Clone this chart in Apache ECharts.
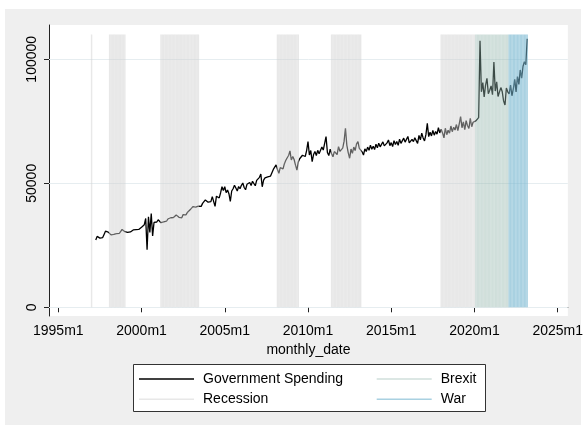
<!DOCTYPE html>
<html>
<head>
<meta charset="utf-8">
<script src="https://cdn.jsdelivr.net/npm/echarts@6/dist/echarts.min.js"></script>
<style>
  html, body { margin: 0; padding: 0; background: #fff; }
  #chart { width: 586px; height: 425px; }
</style>
</head>
<body>
<div id="chart"></div>
<script>
// Monthly government spending, first observation 1997m4
const firstMonth = '1997m4';
const spending = [
  // 1997 (Apr-Dec)
  27100, 28600, 28300, 27900, 28700, 28100, 29400, 30700, 30500,
  // 1998
  30300, 29600, 29200, 29000, 29400, 29300, 29700, 30100, 29800, 30600, 31400, 30700,
  // 1999
  30500, 30900, 30200, 29900, 30400, 30800, 31200, 30900, 31300, 31600, 31400, 32100,
  // 2000
  32300, 31900, 33300, 35800, 23200, 36500, 30200, 37800, 28800, 34200, 35000, 34400,
  // 2001
  35300, 34600, 34100, 33500, 34400, 35100, 34700, 35600, 35200, 36100, 35600, 36200,
  // 2002
  36400, 37200, 36800, 36300, 37100, 36100, 37400, 37900, 37300, 38200, 38800, 39300,
  // 2003
  39800, 40600, 39900, 40400, 40000, 40800, 41300, 40700, 41900, 41200, 43300, 42500,
  // 2004
  42400, 43100, 42600, 44600, 45300, 40700, 44800, 45600, 44100, 46200, 48600, 47100,
  // 2005
  48600, 46200, 47300, 45800, 42700, 46900, 47800, 49200, 48100, 46900, 48700, 47800,
  // 2006
  49200, 50100, 48300, 47400, 49600, 48800, 50300, 49100, 50800, 50200, 49000, 51200,
  // 2007
  51700, 52400, 53700, 48600, 51300, 52200, 51800, 52600, 53100, 52900, 54300, 55600,
  // 2008
  55200, 57400, 55600, 54000, 56300, 57100, 55800, 57900, 59300, 58600, 61200, 63100,
  // 2009
  59400, 60800, 59600, 57300, 55300, 58600, 59900, 60400, 61300, 62100, 60800, 63200,
  // 2010
  66800, 61400, 63200, 58700, 61600, 62800, 61200, 63300, 61900, 62700, 64600, 63400,
  // 2011
  62900, 68800, 62400, 61200, 63800, 61900, 60700, 62800, 63500, 61600, 64800, 62900,
  // 2012
  62800, 64200, 66900, 72200, 65300, 62400, 60100, 63800, 62100, 64600, 63200, 65900,
  // 2013
  66800, 64100, 63400, 62700, 61400, 63900, 62800, 64600, 63300, 65400, 63700, 64900,
  // 2014
  63600, 65800, 64300, 66200, 64700, 63900, 66700, 65100, 64400, 66300, 67500, 65200,
  // 2015
  66400, 64800, 67200, 65600, 66900, 65300, 67800, 66100, 65400, 68200, 66600, 67400,
  // 2016
  68900, 66300, 65900, 67700, 66800, 68400, 67200, 66100, 69300, 67500, 70200, 68300,
  // 2017
  67100, 69600, 74200, 68800, 70600, 69100, 71300, 69400, 70900, 69800, 72400, 70300,
  // 2018
  71800, 70300, 68300, 72200, 69600, 71400, 70200, 73100, 70800, 72600, 71500, 73700,
  // 2019
  71200, 73900, 76900, 72400, 74800, 71600, 75300, 73200, 72100, 76200, 72800, 74600,
  // 2020
  73800, 75200, 74400, 76500, 107500, 86900, 90600, 84800, 89600, 92300, 86100, 87500,
  // 2021
  89300, 85700, 98900, 87200, 90900, 85000, 84300, 88600, 87000, 83200, 81600, 88400,
  // 2022
  86900, 86000, 89600, 85300, 88000, 91900, 86800, 93000, 89900, 95700, 92400, 97200,
  // 2023 (Jan-Mar)
  99000, 97800, 108300
];

// Shaded periods (first and last month, inclusive)
const recessionPeriods = [
  ['1997m1', '1997m1'],
  ['1998m2', '1999m1'],
  ['2001m3', '2003m6'],
  ['2008m3', '2009m6'],
  ['2011m6', '2013m3'],
  ['2018m1', '2020m1']
];
const brexitPeriods = [['2020m2', '2022m1']];
const warPeriods = [['2022m2', '2023m3']];
const bandHeight = 110000;

const xTickLabels = ['1995m1', '2000m1', '2005m1', '2010m1', '2015m1', '2020m1', '2025m1'];
const yTickValues = [0, 50000, 100000];

// Stata-style monthly index: months since 1960m1
function toMonth(s) {
  const [y, m] = s.split('m').map(Number);
  return (y - 1960) * 12 + (m - 1);
}
function monthLabel(v) {
  const y = 1960 + Math.floor(v / 12);
  const m = (v % 12) + 1;
  return y + 'm' + m;
}

const start = toMonth(firstMonth);
const spendingData = spending.map((v, i) => [start + i, v]);
const xTickValues = xTickLabels.map(toMonth);

function bandData(periods) {
  const out = [];
  periods.forEach(([a, b]) => {
    for (let m = toMonth(a); m <= toMonth(b); m++) out.push([m, bandHeight]);
  });
  return out;
}

const FONT = "'Liberation Sans', Arial, Helvetica, sans-serif";

function bandSeries(name, periods, color) {
  return {
    name: name,
    type: 'custom',
    z: 5,
    silent: true,
    itemStyle: { color: color },
    encode: { x: 0, y: 1 },
    data: bandData(periods),
    renderItem: function (params, api) {
      const m = api.value(0);
      const p0 = api.coord([m - 0.5, api.value(1)]);
      const p1 = api.coord([m + 0.5, 0]);
      return {
        type: 'rect',
        shape: { x: p0[0], y: p0[1], width: p1[0] - p0[0], height: p1[1] - p0[1] },
        style: { fill: color }
      };
    }
  };
}

const recessionColor = 'rgba(209,209,209,0.5)';
const brexitColor = 'rgba(150,185,175,0.45)';
const warColor = 'rgba(120,183,208,0.64)';

const legendText = { fontFamily: FONT, fontSize: 14, color: '#000', padding: [0, 0, 0, 4], lineHeight: 16 };

const chart = echarts.init(document.getElementById('chart'), null, { renderer: 'canvas' });
chart.setOption({
  animation: false,
  backgroundColor: '#efefef',
  textStyle: { fontFamily: FONT },
  graphic: [
    { type: 'rect', shape: { x: 0, y: 0, width: 586, height: 9 }, style: { fill: '#fff' }, silent: true },
    { type: 'rect', shape: { x: 0, y: 0, width: 5, height: 425 }, style: { fill: '#fff' }, silent: true },
    { type: 'rect', shape: { x: 581, y: 0, width: 5, height: 425 }, style: { fill: '#fff' }, silent: true },
    { type: 'rect', shape: { x: 133.5, y: 364.5, width: 352, height: 47 }, style: { fill: '#fff', stroke: '#333', lineWidth: 1 }, silent: true }
  ],
  grid: {
    left: 49, right: 16, top: 25, bottom: 109,
    show: true, backgroundColor: '#fff', borderWidth: 0
  },
  xAxis: {
    type: 'value',
    min: 413.3, max: 787.3,
    name: 'monthly_date',
    nameLocation: 'middle',
    nameGap: 25,
    nameTextStyle: { fontFamily: FONT, fontSize: 14, color: '#000' },
    axisLine: { show: true, lineStyle: { color: '#222', width: 1 } },
    axisTick: { show: true, customValues: xTickValues, length: 5, lineStyle: { color: '#222' } },
    axisLabel: {
      customValues: xTickValues,
      formatter: v => monthLabel(Math.round(v)),
      fontFamily: FONT, fontSize: 14, color: '#000', margin: 8
    },
    splitLine: { show: false }
  },
  yAxis: {
    type: 'value',
    min: -3508, max: 113831,
    axisLine: { show: true, lineStyle: { color: '#222', width: 1 } },
    axisTick: { show: true, customValues: yTickValues, length: 5, lineStyle: { color: '#222' } },
    axisLabel: {
      customValues: yTickValues,
      formatter: v => String(Math.round(v)),
      rotate: 90,
      fontFamily: FONT, fontSize: 14, color: '#000', margin: 10
    },
    splitLine: { show: false }
  },
  legend: [
    {
      data: [{ name: 'Government Spending', icon: 'rect' }, { name: 'Recession', icon: 'rect' }],
      orient: 'vertical', left: 139, top: 371, padding: 0,
      itemWidth: 55, itemHeight: 1.5, itemGap: 4.3,
      selectedMode: false, textStyle: legendText
    },
    {
      data: [{ name: 'Brexit', icon: 'rect' }, { name: 'War', icon: 'rect' }],
      orient: 'vertical', left: 376.7, top: 371, padding: 0,
      itemWidth: 55, itemHeight: 1.5, itemGap: 4.3,
      selectedMode: false, textStyle: legendText
    }
  ],
  series: [
    {
      name: 'Government Spending',
      type: 'line',
      z: 2,
      data: spendingData,
      showSymbol: false,
      symbol: 'none',
      lineStyle: { color: '#000', width: 1.3 },
      itemStyle: { color: '#000' },
      markLine: {
        silent: true,
        symbol: 'none',
        z: 1,
        label: { show: false },
        lineStyle: { color: '#e6edf0', width: 1, type: 'solid' },
        data: yTickValues.map(v => ({ yAxis: v }))
      }
    },
    bandSeries('Recession', recessionPeriods, recessionColor),
    bandSeries('Brexit', brexitPeriods, brexitColor),
    bandSeries('War', warPeriods, warColor)
  ]
});
</script>
</body>
</html>
